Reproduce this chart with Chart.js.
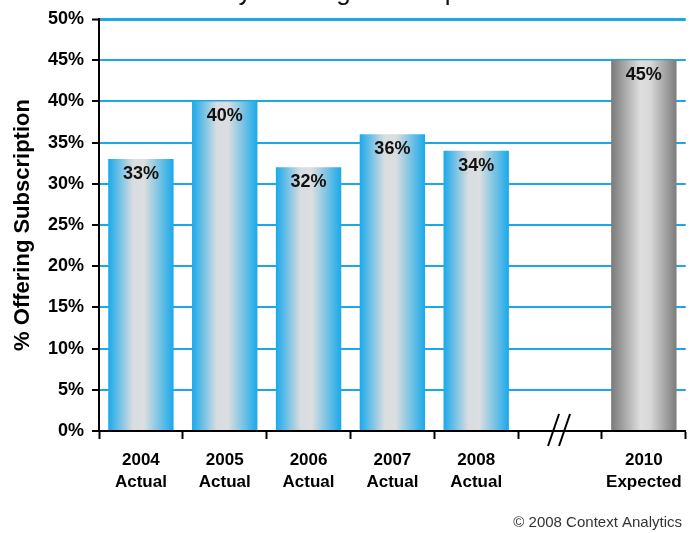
<!DOCTYPE html>
<html>
<head>
<meta charset="utf-8">
<title>Offering Subscription</title>
<script src="https://cdn.jsdelivr.net/npm/chart.js@4/dist/chart.umd.min.js"></script>
<style>
  body { margin: 0; background: #fff; }
  canvas { display: block; }
</style>
</head>
<body>
<canvas id="subsChart" width="693" height="533"></canvas>
<script>
// Share of firms offering subscription, by year
const categories = [
  ["2004", "Actual"],
  ["2005", "Actual"],
  ["2006", "Actual"],
  ["2007", "Actual"],
  ["2008", "Actual"],
  "",
  ["2010", "Expected"],
];
const shares = [33, 40, 32, 36, 34, null, 45];
const isExpected = [false, false, false, false, false, false, true];
const breakIndex = 5; // the gap between 2008 and 2010
const yMax = 50;
const yStep = 5;

const FONT = "'Liberation Sans', Arial, sans-serif";
const GRID_BLUE = "#1ca8e4";

// horizontal shading for each bar: blue edges for actuals, grey for the forecast
function barFill(ctx) {
  const chart = ctx.chart;
  if (!chart.chartArea) return GRID_BLUE;
  const xScale = chart.scales.x;
  const cx = xScale.getPixelForValue(ctx.dataIndex);
  const half = (xScale.width / categories.length) * 0.78 / 2;
  const g = chart.ctx.createLinearGradient(cx - half, 0, cx + half, 0);
  if (isExpected[ctx.dataIndex]) {
    g.addColorStop(0, "#7a7a7a");
    g.addColorStop(0.45, "#dedede");
    g.addColorStop(0.6, "#d8d8d8");
    g.addColorStop(1, "#7c7c7c");
  } else {
    g.addColorStop(0, "#1aa9ea");
    g.addColorStop(0.38, "#d9dde0");
    g.addColorStop(0.55, "#dcdedf");
    g.addColorStop(1, "#1aa9ea");
  }
  return g;
}

const overlayPlugin = {
  id: "overlay",
  afterDatasetsDraw(chart) {
    const c = chart.ctx;
    const meta = chart.getDatasetMeta(0);

    // percentage inside the top of each bar
    c.save();
    c.font = "bold 18px " + FONT;
    c.fillStyle = "#111";
    c.textAlign = "center";
    c.textBaseline = "middle";
    meta.data.forEach((bar, i) => {
      if (shares[i] == null) return;
      c.fillText(shares[i] + "%", bar.x, bar.y + 15);
    });
    c.restore();

    // axis break marks
    const cx = chart.scales.x.getPixelForValue(breakIndex);
    const base = chart.chartArea.bottom;
    c.save();
    c.strokeStyle = "#000";
    c.lineWidth = 2;
    c.beginPath();
    c.moveTo(cx - 12, base + 15);
    c.lineTo(cx - 1, base - 17);
    c.moveTo(cx - 1, base + 15);
    c.lineTo(cx + 10, base - 17);
    c.stroke();
    c.restore();
  },
  afterDraw(chart) {
    const c = chart.ctx;
    // heading, sitting mostly above the canvas edge
    c.save();
    c.font = "26px " + FONT;
    c.fillStyle = "#111";
    c.textAlign = "left";
    c.textBaseline = "alphabetic";
    c.fillText("Currently Offering Subscription", 146, 0);
    c.restore();

    // source line
    c.save();
    c.font = "15px " + FONT;
    c.fillStyle = "#333";
    c.textAlign = "right";
    c.textBaseline = "middle";
    c.fillText("\u00a9 2008 Context Analytics", 682, 523);
    c.restore();
  },
};

new Chart(document.getElementById("subsChart"), {
  type: "bar",
  data: {
    labels: categories,
    datasets: [
      {
        data: shares,
        backgroundColor: barFill,
        borderWidth: 0,
        barPercentage: 0.78,
        categoryPercentage: 1.0,
      },
    ],
  },
  options: {
    responsive: false,
    animation: false,
    devicePixelRatio: 1,
    layout: { padding: { top: 19, right: 5, left: 0, bottom: 0 } },
    plugins: {
      legend: { display: false },
      tooltip: { enabled: false },
      title: { display: false },
    },
    scales: {
      x: {
        offset: true,
        afterFit: (scale) => { scale.height = 102; },
        grid: {
          offset: true,
          drawOnChartArea: false,
          drawTicks: true,
          tickLength: 8,
          tickColor: "#000",
          tickWidth: 2,
        },
        border: { display: true, color: "#000", width: 2 },
        ticks: {
          color: "#000",
          padding: 11,
          maxRotation: 0,
          autoSkip: false,
          font: { family: FONT, size: 17, weight: "bold", lineHeight: 1.25 },
        },
      },
      y: {
        min: 0,
        max: yMax,
        afterFit: (scale) => { scale.width = 99; },
        grid: {
          color: (ctx) => (ctx.tick && ctx.tick.value === 0 ? "rgba(0,0,0,0)" : GRID_BLUE),
          lineWidth: (ctx) => (ctx.tick && ctx.tick.value === yMax ? 3 : 2),
          drawTicks: true,
          tickLength: 7,
          tickColor: "#000",
          tickWidth: 2,
        },
        border: { display: true, color: "#000", width: 2 },
        ticks: {
          stepSize: yStep,
          color: "#000",
          padding: 8,
          font: { family: FONT, size: 18, weight: "bold" },
          callback: (v) => v + "%",
        },
        title: {
          display: true,
          text: "% Offering Subscription",
          color: "#000",
          padding: { top: 10, bottom: 0 },
          font: { family: FONT, size: 22, weight: "bold" },
        },
      },
    },
  },
  plugins: [overlayPlugin],
});
</script>
</body>
</html>
